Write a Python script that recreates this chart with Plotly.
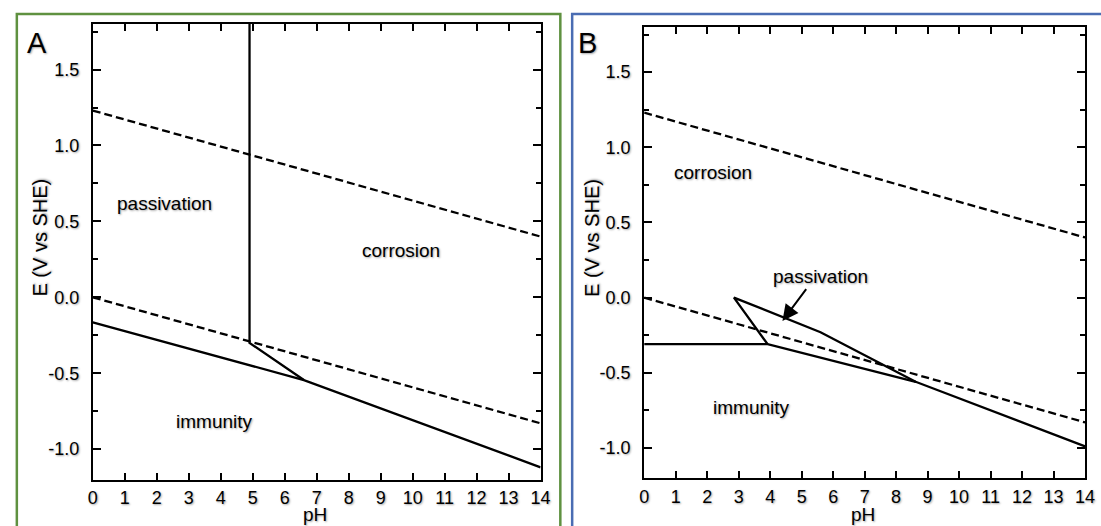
import plotly.graph_objects as go

# ---------------- data ----------------
ph_water = [0, 14]
e_o2_line = [1.23, 0.40]      # upper dashed (O2/H2O)
e_h2_line = [0.0, -0.83]      # lower dashed (H+/H2)

# Panel A boundaries
a_low_ph = [0, 6.6, 14]
a_low_e = [-0.165, -0.545, -1.12]
a_vert_ph = [4.9, 4.9, 6.6]
a_vert_e = [1.8, -0.30, -0.545]

# Panel B boundaries
b_low_ph = [0, 3.92, 8.62, 14]
b_low_e = [-0.31, -0.31, -0.56, -0.99]
b_pass_ph = [3.92, 2.85, 5.6, 8.62]
b_pass_e = [-0.31, 0.0, -0.23, -0.56]

# Region labels (text, pH, E)
a_labels = [("passivation", 2.25, 0.62), ("corrosion", 9.65, 0.31), ("immunity", 3.79, -0.82)]
b_labels = [("corrosion", 2.17, 0.83), ("immunity", 3.4, -0.73)]
b_pass_label = ("passivation", 5.6, 0.14)
b_arrow_tail = (5.18, 0.066)
b_arrow_head = (4.39, -0.155)

x_ticks = list(range(0, 15))
y_ticks = [-1.0, -0.5, 0.0, 0.5, 1.0, 1.5]
y_tick_text = ["-1.0", "-0.5", "0.0", "0.5", "1.0", "1.5"]
x_range = [0, 14]
y_range = [-1.2, 1.8]

FONT = "Liberation Sans, Arial, sans-serif"
SHADOW = "1px 1px 2px rgba(0,0,0,0.35)"
W, H = 1101, 526

fig = go.Figure()

def add_line(xs, ys, xa, ya, dash="solid"):
    fig.add_trace(go.Scatter(x=xs, y=ys, mode="lines", xaxis=xa, yaxis=ya,
                             line=dict(color="black", width=2.3, dash=dash),
                             hoverinfo="skip", showlegend=False))

# Panel A
add_line(ph_water, e_o2_line, "x", "y", "8px,4px")
add_line(ph_water, e_h2_line, "x", "y", "8px,4px")
add_line(a_low_ph, a_low_e, "x", "y")
add_line(a_vert_ph, a_vert_e, "x", "y")
# Panel B
add_line(ph_water, e_o2_line, "x2", "y2", "8px,4px")
add_line(ph_water, e_h2_line, "x2", "y2", "8px,4px")
add_line(b_low_ph, b_low_e, "x2", "y2")
add_line(b_pass_ph, b_pass_e, "x2", "y2")

def px_x(p):
    return p / W

def px_y(p):
    return 1 - p / H

tick_font = dict(family=FONT, size=18, color="black", shadow=SHADOW)

xaxis_common = dict(range=x_range, tickmode="array", tickvals=x_ticks,
                    ticks="inside", ticklen=7, tickwidth=2, tickcolor="black",
                    showline=True, linewidth=2, linecolor="black", mirror="ticks",
                    showgrid=False, zeroline=False, fixedrange=True,
                    ticklabelstandoff=1, tickfont=tick_font)
yaxis_common = dict(range=y_range, tickmode="array", tickvals=y_ticks, ticktext=y_tick_text,
                    ticks="inside", ticklen=8, tickwidth=2, tickcolor="black",
                    showline=True, linewidth=2, linecolor="black", mirror="ticks",
                    showgrid=False, zeroline=False, fixedrange=True,
                    ticklabelstandoff=8,
                    minor=dict(dtick=0.25, tick0=0, ticks="inside", ticklen=5,
                               tickwidth=2, tickcolor="black", showgrid=False),
                    tickfont=tick_font)

fig.update_layout(
    width=W, height=H, margin=dict(l=0, r=0, t=0, b=0),
    paper_bgcolor="white", plot_bgcolor="white", showlegend=False,
    xaxis=dict(domain=[px_x(89), px_x(543)], anchor="y", **xaxis_common),
    yaxis=dict(domain=[px_y(479.5), px_y(24)], anchor="x", **yaxis_common),
    xaxis2=dict(domain=[px_x(648), px_x(1095)], anchor="y2", **xaxis_common),
    yaxis2=dict(domain=[px_y(478), px_y(27)], anchor="x2", **yaxis_common),
)

# Panel borders
fig.add_shape(type="rect", xref="paper", yref="paper",
              x0=px_x(12), x1=px_x(563), y0=px_y(540), y1=px_y(14),
              line=dict(color="#5f9140", width=2.5), layer="below")
fig.add_shape(type="rect", xref="paper", yref="paper",
              x0=px_x(575), x1=px_x(1115), y0=px_y(540), y1=px_y(14),
              line=dict(color="#4a6db3", width=2.5), layer="below")

label_font = dict(family=FONT, size=19, color="black", shadow=SHADOW)
title_font = dict(family=FONT, size=20, color="black", shadow=SHADOW)

def text_ann(x, y, txt, font, xref, yref, angle=0):
    fig.add_annotation(x=x, y=y, xref=xref, yref=yref, text=txt, showarrow=False,
                       font=font, xanchor="center", yanchor="middle", textangle=angle)

for txt, x, y in a_labels:
    text_ann(x, y, txt, label_font, "x", "y")
for txt, x, y in b_labels:
    text_ann(x, y, txt, label_font, "x2", "y2")
text_ann(b_pass_label[1], b_pass_label[2], b_pass_label[0], label_font, "x2", "y2")
fig.add_annotation(x=b_arrow_head[0], y=b_arrow_head[1], xref="x2", yref="y2",
                   ax=b_arrow_tail[0], ay=b_arrow_tail[1], axref="x2", ayref="y2",
                   text="", showarrow=True, arrowhead=2, arrowsize=1.6, arrowwidth=2,
                   arrowcolor="black")

# Panel letters
letter_font = dict(family=FONT, size=29, color="black", shadow=SHADOW)
text_ann(px_x(32), px_y(43), "A", letter_font, "paper", "paper")
text_ann(px_x(591), px_y(43), "B", letter_font, "paper", "paper")

# Axis titles
for xc in (35, 595):
    text_ann(px_x(xc), px_y(238), "E (V vs SHE)", title_font, "paper", "paper", -90)
for xc in (314, 870):
    text_ann(px_x(xc), px_y(514), "pH", dict(title_font, size=19), "paper", "paper")

fig.write_html("out.html")
